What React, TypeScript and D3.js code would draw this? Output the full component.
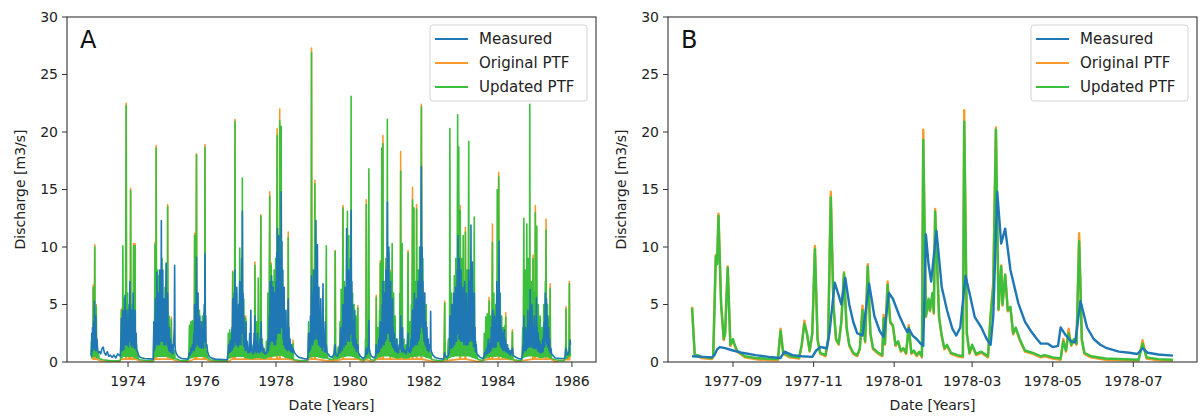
import React from 'react';
import * as d3 from 'd3';

// ---------- DATA ----------
const yTicks = [0, 5, 10, 15, 20, 25, 30];
const xTicksA = [1974, 1976, 1978, 1980, 1982, 1984, 1986];
const xTicksB = ['1977-09', '1977-11', '1978-01', '1978-03', '1978-05', '1978-07'];
const seriesNames = ['Measured', 'Original PTF', 'Updated PTF'];

// Panel A: [decimal year, discharge m3/s]
const measuredA: [number, number][] = [
  [1973.00,0.8],[1973.01,0.5],[1973.02,2.5],[1973.03,0.9],[1973.04,3.0],[1973.05,1.0],[1973.07,3.5],[1973.08,1.2],[1973.09,5.3],[1973.10,1.2],[1973.11,3.0],[1973.12,1.0],[1973.13,4.0],[1973.14,1.0],[1973.16,2.0],[1973.18,1.0],[1973.20,0.8],[1973.23,0.9],[1973.26,0.7],[1973.30,1.2],[1973.33,1.3],[1973.36,0.8],[1973.40,0.6],[1973.44,0.9],[1973.48,0.5],[1973.52,0.6],[1973.57,0.4],[1973.62,0.6],[1973.67,0.35],[1973.72,0.7],[1973.76,0.6],[1973.79,0.5],
  [1973.81,2.0],[1973.82,3.8],[1973.83,1.0],[1973.84,2.8],[1973.85,1.0],[1973.86,4.5],[1973.87,1.2],[1973.88,3.0],[1973.89,1.1],[1973.91,4.5],[1973.92,5.8],[1973.93,1.5],[1973.94,3.5],[1973.95,1.5],[1973.97,4.5],[1973.98,1.5],[1974.00,3.5],[1974.01,1.3],[1974.03,5.0],[1974.04,1.8],[1974.05,7.0],[1974.06,1.8],[1974.07,4.5],[1974.08,1.5],[1974.10,4.5],[1974.11,1.3],[1974.12,3.5],[1974.13,1.3],[1974.14,6.0],[1974.15,1.5],[1974.17,3.5],[1974.18,1.2],[1974.19,4.5],[1974.20,1.2],[1974.22,2.5],[1974.23,1.0],[1974.25,1.0],[1974.28,0.6],[1974.33,0.4],[1974.45,0.3],[1974.68,0.25],
  [1974.70,3.5],[1974.71,1.0],[1974.72,3.0],[1974.73,1.2],[1974.74,5.5],[1974.75,1.5],[1974.76,4.0],[1974.77,1.5],[1974.78,7.8],[1974.79,1.8],[1974.80,4.5],[1974.81,1.5],[1974.82,6.0],[1974.83,1.8],[1974.84,4.0],[1974.85,1.5],[1974.86,8.0],[1974.87,2.0],[1974.88,5.0],[1974.89,1.8],[1974.90,12.3],[1974.91,2.5],[1974.92,6.0],[1974.93,1.8],[1974.94,8.0],[1974.95,1.8],[1974.96,5.0],[1974.97,1.5],[1974.98,5.5],[1974.99,1.5],[1975.00,4.0],[1975.01,1.5],[1975.03,8.6],[1975.04,1.8],[1975.05,5.0],[1975.06,1.5],[1975.07,6.0],[1975.08,1.3],[1975.09,3.0],[1975.10,1.0],[1975.12,3.0],[1975.13,0.9],[1975.15,2.0],[1975.17,0.8],[1975.19,1.5],[1975.21,0.7],[1975.23,1.5],[1975.25,3.0],[1975.26,8.4],[1975.27,1.5],[1975.28,1.0],[1975.31,0.7],[1975.36,0.45],[1975.45,0.3],[1975.62,0.25],
  [1975.66,0.8],[1975.68,0.6],[1975.70,1.2],[1975.72,0.8],[1975.74,1.5],[1975.76,1.0],[1975.78,2.5],[1975.79,1.0],[1975.80,5.0],[1975.81,1.3],[1975.82,3.5],[1975.83,1.3],[1975.85,9.1],[1975.86,1.8],[1975.87,5.0],[1975.88,1.5],[1975.89,6.0],[1975.90,1.5],[1975.91,3.5],[1975.92,1.3],[1975.94,4.0],[1975.95,1.3],[1975.97,3.0],[1975.98,1.2],[1976.00,3.5],[1976.01,1.3],[1976.03,2.8],[1976.04,1.2],[1976.06,5.0],[1976.07,1.8],[1976.08,9.4],[1976.09,2.0],[1976.10,4.0],[1976.11,1.3],[1976.13,1.5],[1976.15,0.9],[1976.18,0.6],[1976.22,0.4],[1976.35,0.25],[1976.68,0.2],
  [1976.71,1.0],[1976.72,1.5],[1976.74,0.8],[1976.76,1.8],[1976.77,0.9],[1976.79,2.0],[1976.80,1.0],[1976.81,3.0],[1976.82,1.1],[1976.83,5.5],[1976.84,1.3],[1976.85,3.0],[1976.86,1.3],[1976.87,6.0],[1976.88,1.8],[1976.89,8.0],[1976.90,1.8],[1976.91,4.5],[1976.92,1.5],[1976.94,6.5],[1976.95,1.5],[1976.96,3.5],[1976.97,1.3],[1976.99,5.0],[1977.00,1.5],[1977.02,7.0],[1977.03,1.8],[1977.04,4.0],[1977.05,1.5],[1977.07,9.0],[1977.08,2.5],[1977.09,13.1],[1977.10,2.5],[1977.11,6.0],[1977.12,1.5],[1977.13,4.0],[1977.14,1.3],[1977.16,2.5],[1977.17,1.0],[1977.19,3.5],[1977.20,1.0],[1977.22,1.8],[1977.24,0.8],[1977.26,1.2],[1977.27,0.8],[1977.29,2.5],[1977.30,0.9],[1977.32,4.5],[1977.33,1.0],[1977.34,1.5],[1977.36,0.8],[1977.38,1.0],[1977.39,0.7],[1977.41,2.5],[1977.42,0.9],[1977.43,4.0],[1977.44,1.0],[1977.46,1.8],[1977.47,0.8],[1977.50,2.5],[1977.51,0.9],[1977.53,1.5],[1977.54,0.8],[1977.57,2.0],[1977.58,0.9],[1977.60,3.5],[1977.61,1.0],[1977.63,1.5],[1977.65,0.8],[1977.67,1.2],[1977.70,0.7],[1977.72,0.7],[1977.75,0.9],[1977.76,0.8],[1977.79,2.0],[1977.80,1.0],[1977.82,4.0],[1977.83,1.5],[1977.84,7.0],[1977.85,2.0],[1977.86,5.0],[1977.87,1.8],[1977.88,7.5],[1977.89,2.0],[1977.90,4.5],[1977.91,1.8],[1977.92,6.5],[1977.93,1.8],[1977.94,3.5],[1977.95,1.5],[1977.96,6.0],[1977.97,1.8],[1977.98,4.0],[1977.99,1.5],[1978.00,7.0],[1978.01,2.0],[1978.02,9.5],[1978.03,2.5],[1978.04,11.6],[1978.05,3.0],[1978.06,7.0],[1978.07,2.5],[1978.08,11.0],[1978.09,3.0],[1978.10,6.0],[1978.11,2.5],[1978.12,9.0],[1978.13,3.0],[1978.14,14.8],[1978.15,3.5],[1978.16,10.5],[1978.17,3.0],[1978.18,8.0],[1978.19,2.0],[1978.20,5.0],[1978.21,1.5],[1978.22,6.5],[1978.23,1.5],[1978.24,3.5],[1978.25,1.2],[1978.27,4.5],[1978.28,1.1],[1978.30,2.5],[1978.31,1.0],[1978.33,5.5],[1978.34,1.2],[1978.35,3.0],[1978.36,1.0],[1978.38,2.0],[1978.40,0.9],[1978.42,1.5],[1978.44,0.8],[1978.46,1.2],[1978.50,0.8],[1978.55,0.6],[1978.62,0.4],[1978.75,0.3],[1978.86,0.25],
  [1978.88,2.5],[1978.89,0.9],[1978.91,2.5],[1978.92,1.0],[1978.93,4.0],[1978.94,1.2],[1978.96,7.5],[1978.97,1.8],[1978.98,4.5],[1978.99,1.5],[1979.00,6.0],[1979.01,1.8],[1979.02,8.0],[1979.03,2.0],[1979.05,6.5],[1979.06,2.0],[1979.08,12.3],[1979.09,2.5],[1979.10,8.0],[1979.11,2.0],[1979.12,10.2],[1979.13,2.0],[1979.14,5.0],[1979.15,1.5],[1979.16,6.5],[1979.17,1.5],[1979.19,3.5],[1979.20,1.3],[1979.21,5.5],[1979.22,1.3],[1979.24,2.5],[1979.25,1.0],[1979.27,6.8],[1979.28,1.3],[1979.30,2.0],[1979.31,0.9],[1979.33,3.5],[1979.34,0.9],[1979.36,1.5],[1979.38,0.8],[1979.41,0.7],[1979.45,0.5],[1979.52,0.4],[1979.58,0.8],[1979.60,1.5],[1979.62,0.6],[1979.65,0.5],[1979.68,0.6],[1979.71,1.0],[1979.72,1.5],[1979.73,0.8],[1979.75,3.0],[1979.76,1.0],[1979.78,2.0],[1979.79,1.0],[1979.81,5.0],[1979.82,1.5],[1979.83,3.5],[1979.84,1.3],[1979.86,6.5],[1979.87,1.8],[1979.88,4.0],[1979.89,1.5],[1979.91,11.6],[1979.92,2.5],[1979.93,6.0],[1979.94,1.8],[1979.96,8.0],[1979.97,2.0],[1979.98,5.0],[1979.99,1.8],[1980.01,9.0],[1980.02,2.5],[1980.03,13.2],[1980.04,2.5],[1980.05,7.0],[1980.06,1.8],[1980.07,5.0],[1980.08,1.5],[1980.10,3.5],[1980.11,1.3],[1980.13,4.5],[1980.14,1.2],[1980.16,2.0],[1980.17,0.9],[1980.19,1.2],[1980.21,1.5],[1980.23,0.8],[1980.28,0.5],[1980.36,0.3],
  [1980.42,0.5],[1980.44,1.2],[1980.46,0.7],[1980.48,0.9],[1980.50,1.5],[1980.51,3.6],[1980.52,1.2],[1980.54,0.8],[1980.58,0.5],[1980.66,0.35],
  [1980.70,0.6],[1980.71,1.5],[1980.72,0.7],[1980.74,1.0],[1980.76,0.8],[1980.78,2.0],[1980.79,0.9],[1980.81,2.5],[1980.82,3.5],[1980.83,1.2],[1980.85,3.0],[1980.86,1.3],[1980.87,5.0],[1980.88,1.5],[1980.89,7.0],[1980.90,1.8],[1980.91,4.5],[1980.92,1.5],[1980.94,6.0],[1980.95,1.8],[1980.97,8.0],[1980.98,2.0],[1980.99,6.0],[1981.00,2.5],[1981.01,13.9],[1981.02,3.0],[1981.03,8.0],[1981.04,2.5],[1981.05,10.0],[1981.06,2.5],[1981.07,6.0],[1981.08,1.8],[1981.10,7.0],[1981.11,1.8],[1981.12,4.0],[1981.13,1.5],[1981.15,5.5],[1981.16,1.3],[1981.17,3.0],[1981.18,1.2],[1981.20,2.5],[1981.21,1.0],[1981.23,1.5],[1981.25,0.9],[1981.26,2.0],[1981.28,0.8],[1981.29,1.2],[1981.31,0.8],[1981.33,1.5],[1981.35,1.2],[1981.37,4.0],[1981.38,1.1],[1981.39,2.0],[1981.40,0.9],[1981.42,3.0],[1981.43,0.9],[1981.45,1.2],[1981.47,0.8],[1981.50,1.0],[1981.52,0.7],[1981.55,1.5],[1981.57,2.5],[1981.58,0.9],[1981.61,1.2],[1981.63,0.8],[1981.65,2.0],[1981.66,1.0],[1981.69,4.5],[1981.70,1.3],[1981.71,3.0],[1981.72,1.3],[1981.74,6.0],[1981.75,1.5],[1981.76,4.0],[1981.77,1.5],[1981.79,5.5],[1981.80,1.8],[1981.81,3.5],[1981.82,1.5],[1981.84,7.0],[1981.85,1.8],[1981.86,5.0],[1981.87,2.0],[1981.88,8.0],[1981.89,2.5],[1981.90,10.0],[1981.91,3.0],[1981.93,17.0],[1981.94,3.5],[1981.95,10.0],[1981.96,3.0],[1981.97,7.0],[1981.98,2.5],[1981.99,5.0],[1982.00,1.8],[1982.02,6.0],[1982.03,1.5],[1982.05,3.5],[1982.06,1.3],[1982.08,3.0],[1982.09,1.0],[1982.11,2.0],[1982.13,0.9],[1982.15,1.5],[1982.17,1.2],[1982.18,4.4],[1982.19,1.1],[1982.20,0.9],[1982.24,0.6],[1982.30,0.4],[1982.40,0.3],[1982.53,0.25],
  [1982.56,0.8],[1982.58,0.5],[1982.62,0.4],[1982.66,0.6],[1982.68,0.8],[1982.69,1.2],[1982.70,4.0],[1982.71,1.2],[1982.72,3.0],[1982.73,1.2],[1982.75,5.0],[1982.76,1.3],[1982.77,3.5],[1982.78,1.3],[1982.80,6.0],[1982.81,1.5],[1982.82,4.0],[1982.83,1.5],[1982.85,6.5],[1982.86,1.8],[1982.87,4.5],[1982.88,1.8],[1982.90,8.0],[1982.91,2.5],[1982.92,11.0],[1982.93,2.5],[1982.94,7.0],[1982.95,2.0],[1982.96,9.0],[1982.97,2.0],[1982.98,5.5],[1982.99,1.8],[1983.00,8.0],[1983.01,2.0],[1983.02,5.0],[1983.03,1.8],[1983.05,6.5],[1983.06,1.8],[1983.07,4.0],[1983.08,1.5],[1983.10,7.0],[1983.11,1.8],[1983.12,5.0],[1983.13,1.5],[1983.15,6.0],[1983.16,1.5],[1983.18,3.5],[1983.19,1.5],[1983.21,8.0],[1983.22,1.8],[1983.23,5.0],[1983.24,1.8],[1983.25,7.0],[1983.26,2.0],[1983.27,11.9],[1983.28,2.5],[1983.29,6.0],[1983.30,1.8],[1983.31,8.7],[1983.32,1.8],[1983.33,4.0],[1983.34,1.3],[1983.36,6.0],[1983.37,1.3],[1983.38,3.0],[1983.39,0.9],[1983.41,1.5],[1983.43,0.7],[1983.46,0.6],[1983.52,0.4],[1983.61,0.3],
  [1983.64,0.8],[1983.66,0.6],[1983.68,1.0],[1983.70,1.2],[1983.71,0.7],[1983.73,1.5],[1983.74,2.0],[1983.75,0.8],[1983.77,1.5],[1983.78,0.9],[1983.80,2.0],[1983.81,1.0],[1983.82,3.0],[1983.83,1.2],[1983.85,4.0],[1983.86,4.5],[1983.87,1.3],[1983.88,3.0],[1983.89,1.3],[1983.91,4.0],[1983.92,1.3],[1983.94,3.0],[1983.95,1.3],[1983.97,7.0],[1983.98,1.8],[1984.00,5.0],[1984.01,1.8],[1984.03,10.5],[1984.04,2.0],[1984.05,6.0],[1984.06,1.5],[1984.07,4.0],[1984.08,1.3],[1984.10,3.0],[1984.11,1.2],[1984.13,2.5],[1984.14,1.0],[1984.17,2.8],[1984.18,1.0],[1984.20,2.0],[1984.22,0.9],[1984.24,1.5],[1984.26,0.8],[1984.28,1.2],[1984.30,0.7],[1984.32,1.0],[1984.34,0.6],[1984.36,0.8],[1984.39,1.2],[1984.41,0.6],[1984.46,0.45],[1984.55,0.3],[1984.64,0.25],
  [1984.66,0.6],[1984.68,1.5],[1984.69,0.8],[1984.70,4.0],[1984.71,1.0],[1984.72,2.0],[1984.73,1.0],[1984.75,3.0],[1984.76,1.0],[1984.78,2.5],[1984.79,1.2],[1984.81,4.5],[1984.82,1.3],[1984.84,3.0],[1984.85,1.3],[1984.87,6.3],[1984.88,1.5],[1984.89,4.0],[1984.90,1.3],[1984.92,5.0],[1984.93,1.3],[1984.95,3.0],[1984.96,1.2],[1984.98,4.0],[1984.99,1.2],[1985.01,2.5],[1985.02,1.2],[1985.04,5.6],[1985.05,1.3],[1985.06,3.0],[1985.07,1.0],[1985.09,2.5],[1985.10,0.9],[1985.13,1.8],[1985.14,0.8],[1985.17,1.5],[1985.18,0.8],[1985.21,2.0],[1985.22,0.9],[1985.24,2.5],[1985.25,3.5],[1985.26,1.3],[1985.28,6.0],[1985.29,1.8],[1985.31,5.5],[1985.32,1.5],[1985.34,4.0],[1985.35,1.3],[1985.37,3.0],[1985.38,1.0],[1985.40,2.0],[1985.41,0.8],[1985.43,1.2],[1985.45,0.7],[1985.48,0.6],[1985.55,0.35],[1985.70,0.3],[1985.80,0.3],
  [1985.82,0.6],[1985.84,1.2],[1985.86,0.8],[1985.88,0.6],[1985.91,0.7],[1985.93,1.0],[1985.94,1.5],[1985.95,1.9],[1985.96,1.5]
];

const originalA: [number, number][] = [
  [1973.00,0.4],[1973.05,0.25],[1973.06,6.7],[1973.07,0.25],[1973.09,0.25],[1973.10,10.2],[1973.11,0.25],[1973.13,0.25],[1973.14,5.0],[1973.15,0.25],[1973.25,0.1],[1973.78,0.05],[1973.81,0.25],[1973.82,4.6],[1973.83,0.25],[1973.94,0.25],[1973.95,22.5],[1973.96,0.25],[1974.02,0.25],[1974.03,4.7],[1974.04,0.25],[1974.06,0.25],[1974.07,15.1],[1974.08,0.25],[1974.14,0.25],[1974.15,10.3],[1974.16,0.25],[1974.18,0.25],[1974.19,10.3],[1974.20,0.25],[1974.30,0.1],[1974.68,0.05],
  [1974.72,0.25],[1974.73,10.4],[1974.74,0.25],[1974.755,0.25],[1974.76,18.8],[1974.77,0.25],[1975.065,0.25],[1975.07,13.7],[1975.08,0.25],[1975.16,0.25],[1975.17,3.9],[1975.18,0.25],[1975.30,0.1],[1975.64,0.05],[1975.79,0.25],[1975.80,11.2],[1975.81,0.25],[1975.84,0.25],[1975.85,18.1],[1975.86,0.25],[1976.04,0.25],[1976.05,4.3],[1976.06,0.25],[1976.075,0.25],[1976.08,18.9],[1976.09,0.25],[1976.20,0.1],[1976.70,0.05],
  [1976.82,0.25],[1976.83,7.9],[1976.84,0.25],[1976.88,0.25],[1976.89,21.1],[1976.90,0.25],[1977.17,0.25],[1977.18,4.0],[1977.19,0.25],[1977.42,0.25],[1977.43,8.7],[1977.44,0.25],[1977.58,0.25],[1977.59,12.8],[1977.60,0.25],[1977.82,0.25],[1977.83,14.8],[1977.84,0.25],[1977.86,0.25],[1977.87,8.6],[1977.88,0.25],[1978.02,0.25],[1978.03,20.3],[1978.04,0.25],[1978.095,0.25],[1978.10,22.0],[1978.11,0.25],[1978.325,0.25],[1978.33,11.3],[1978.34,0.25],[1978.45,0.2],[1978.46,1.9],[1978.47,0.15],[1978.60,0.05],
  [1978.95,0.25],[1978.96,27.3],[1978.97,0.25],[1979.04,0.25],[1979.05,15.8],[1979.06,0.25],[1979.40,0.1],[1979.59,0.1],[1979.60,9.7],[1979.61,0.1],[1979.80,0.25],[1979.81,13.6],[1979.82,0.25],[1980.20,0.25],[1980.21,4.9],[1980.22,0.25],[1980.35,0.05],[1980.43,0.2],[1980.44,14.1],[1980.45,0.2],[1980.60,0.05],
  [1980.70,0.2],[1980.71,5.8],[1980.72,0.25],[1980.81,0.25],[1980.82,8.8],[1980.83,0.25],[1980.885,0.25],[1980.89,19.7],[1980.90,0.25],[1981.08,0.25],[1981.09,8.0],[1981.10,0.25],[1981.36,0.25],[1981.37,18.3],[1981.38,0.25],[1981.56,0.25],[1981.57,9.7],[1981.58,0.25],[1981.68,0.25],[1981.69,15.2],[1981.70,0.25],[1981.795,0.25],[1981.80,13.7],[1981.81,0.25],[1981.92,0.25],[1981.93,22.4],[1981.94,0.25],[1982.25,0.05],
  [1982.55,0.1],[1982.56,5.3],[1982.57,0.1],[1982.97,0.25],[1982.98,13.6],[1982.99,0.25],[1983.11,0.25],[1983.12,11.7],[1983.13,0.25],[1983.45,0.05],[1983.75,0.25],[1983.76,5.6],[1983.77,0.25],[1983.84,0.25],[1983.85,12.0],[1983.86,0.25],[1984.01,0.25],[1984.02,16.5],[1984.03,0.25],[1984.20,0.25],[1984.21,4.3],[1984.22,0.25],[1984.38,0.2],[1984.39,2.8],[1984.40,0.2],[1984.50,0.05],
  [1984.94,0.25],[1984.95,9.3],[1984.96,0.25],[1985.00,0.25],[1985.01,13.6],[1985.02,0.25],[1985.29,0.25],[1985.30,12.4],[1985.31,0.25],[1985.40,0.25],[1985.41,6.8],[1985.42,0.25],[1985.55,0.05],[1985.835,0.2],[1985.84,4.8],[1985.85,0.2],[1985.92,0.2],[1985.93,7.0],[1985.94,0.2],[1985.96,0.2]
];

const updatedA: [number, number][] = [
  [1973.00,0.6],[1973.01,1.8],[1973.02,0.4],[1973.04,2.5],[1973.05,0.5],[1973.06,6.5],[1973.07,0.5],[1973.08,1.5],[1973.09,0.5],[1973.10,10.0],[1973.11,0.5],[1973.12,1.5],[1973.13,0.5],[1973.14,4.8],[1973.15,0.4],[1973.17,1.2],[1973.18,0.35],[1973.20,0.8],[1973.22,0.3],[1973.25,0.25],[1973.32,0.2],[1973.50,0.12],[1973.78,0.1],
  [1973.80,0.3],[1973.81,1.5],[1973.82,4.5],[1973.83,0.4],[1973.84,1.5],[1973.85,0.45],[1973.86,10.1],[1973.87,0.5],[1973.88,1.5],[1973.89,0.5],[1973.90,5.5],[1973.91,0.5],[1973.92,1.5],[1973.93,0.5],[1973.95,22.3],[1973.96,0.5],[1973.97,1.6],[1973.98,0.5],[1973.99,6.0],[1974.00,0.5],[1974.01,1.5],[1974.02,0.5],[1974.03,4.5],[1974.04,0.5],[1974.05,1.6],[1974.06,0.5],[1974.07,14.9],[1974.08,0.5],[1974.09,1.8],[1974.10,0.5],[1974.11,5.0],[1974.12,0.5],[1974.13,1.5],[1974.14,0.45],[1974.15,10.1],[1974.16,0.45],[1974.17,1.6],[1974.18,0.4],[1974.19,10.1],[1974.20,0.4],[1974.21,1.4],[1974.22,0.35],[1974.23,1.5],[1974.24,0.3],[1974.26,0.8],[1974.28,0.25],[1974.32,0.2],[1974.45,0.15],[1974.67,0.1],
  [1974.69,0.3],[1974.70,3.5],[1974.71,0.4],[1974.73,10.2],[1974.74,0.5],[1974.75,1.6],[1974.755,0.5],[1974.76,18.6],[1974.77,0.5],[1974.78,1.6],[1974.79,0.5],[1974.80,8.0],[1974.81,0.5],[1974.82,1.5],[1974.83,0.5],[1974.84,7.5],[1974.85,0.5],[1974.86,1.6],[1974.87,0.5],[1974.88,6.0],[1974.89,0.5],[1974.90,1.5],[1974.91,0.5],[1974.92,9.0],[1974.93,0.5],[1974.94,1.6],[1974.95,0.5],[1974.96,5.0],[1974.97,0.5],[1974.98,1.5],[1974.99,0.5],[1975.00,6.5],[1975.01,0.5],[1975.02,1.6],[1975.03,0.5],[1975.04,8.5],[1975.05,0.5],[1975.06,1.6],[1975.065,0.5],[1975.07,13.5],[1975.08,0.5],[1975.09,1.6],[1975.10,0.45],[1975.11,4.0],[1975.12,0.4],[1975.13,1.3],[1975.14,0.4],[1975.15,1.8],[1975.16,0.4],[1975.17,3.7],[1975.18,0.35],[1975.20,1.0],[1975.21,0.3],[1975.23,0.8],[1975.24,0.3],[1975.26,1.0],[1975.27,0.3],[1975.30,0.25],[1975.40,0.15],[1975.60,0.1],
  [1975.64,0.2],[1975.66,3.2],[1975.67,0.35],[1975.68,1.4],[1975.69,0.35],[1975.70,3.5],[1975.71,0.4],[1975.72,1.5],[1975.73,0.4],[1975.74,3.6],[1975.75,0.4],[1975.76,1.5],[1975.77,0.45],[1975.78,3.5],[1975.79,0.5],[1975.80,11.0],[1975.81,0.5],[1975.82,1.6],[1975.83,0.5],[1975.85,18.0],[1975.86,0.5],[1975.87,1.8],[1975.88,0.5],[1975.89,6.0],[1975.90,0.5],[1975.91,1.5],[1975.92,0.5],[1975.93,4.5],[1975.94,0.5],[1975.95,1.5],[1975.96,0.5],[1975.97,3.5],[1975.98,0.5],[1975.99,1.5],[1976.00,0.5],[1976.01,4.0],[1976.02,0.5],[1976.03,1.5],[1976.04,0.5],[1976.05,4.2],[1976.06,0.5],[1976.07,1.6],[1976.075,0.5],[1976.08,18.7],[1976.09,0.5],[1976.10,1.5],[1976.11,0.4],[1976.12,1.0],[1976.13,0.35],[1976.15,0.6],[1976.17,0.3],[1976.22,0.2],[1976.40,0.12],[1976.68,0.1],
  [1976.70,0.3],[1976.71,2.5],[1976.72,0.35],[1976.73,1.5],[1976.74,0.35],[1976.75,2.8],[1976.76,0.4],[1976.77,1.5],[1976.78,0.4],[1976.79,2.5],[1976.80,0.45],[1976.81,1.8],[1976.82,0.5],[1976.83,7.8],[1976.84,0.5],[1976.85,1.6],[1976.86,0.5],[1976.87,4.0],[1976.88,0.5],[1976.89,20.9],[1976.90,0.5],[1976.91,1.6],[1976.92,0.5],[1976.93,6.0],[1976.94,0.5],[1976.95,1.6],[1976.96,0.5],[1976.97,4.5],[1976.98,0.5],[1976.99,1.5],[1977.00,0.5],[1977.02,9.9],[1977.03,0.5],[1977.04,1.6],[1977.05,0.5],[1977.06,5.0],[1977.07,0.5],[1977.08,1.6],[1977.085,0.5],[1977.09,16.0],[1977.10,0.5],[1977.11,1.6],[1977.12,0.5],[1977.13,5.5],[1977.14,0.45],[1977.15,1.5],[1977.16,0.4],[1977.18,3.8],[1977.19,0.4],[1977.20,1.2],[1977.21,0.4],[1977.22,1.5],[1977.23,0.35],[1977.25,1.0],[1977.26,0.35],[1977.27,1.2],[1977.28,0.35],[1977.30,0.9],[1977.31,0.3],[1977.33,1.0],[1977.34,0.3],[1977.36,0.8],[1977.37,0.3],[1977.39,1.5],[1977.40,0.35],[1977.41,1.0],[1977.42,0.4],[1977.43,8.4],[1977.44,0.4],[1977.45,1.5],[1977.46,0.4],[1977.48,3.5],[1977.49,0.4],[1977.50,1.3],[1977.51,0.4],[1977.52,7.3],[1977.53,0.4],[1977.54,1.5],[1977.55,0.4],[1977.56,2.0],[1977.57,0.4],[1977.59,12.7],[1977.60,0.4],[1977.61,1.5],[1977.62,0.4],[1977.63,2.0],[1977.64,0.35],[1977.66,1.0],[1977.67,0.3],[1977.69,0.8],[1977.70,0.3],[1977.72,0.7],[1977.73,0.35],[1977.74,1.8],[1977.75,0.4],[1977.76,1.3],[1977.77,0.4],[1977.78,6.0],[1977.79,0.45],[1977.80,1.5],[1977.81,0.5],[1977.83,14.4],[1977.84,0.5],[1977.85,1.6],[1977.86,0.5],[1977.87,8.4],[1977.88,0.5],[1977.89,1.6],[1977.90,0.5],[1977.91,7.0],[1977.92,0.55],[1977.93,1.6],[1977.94,0.5],[1977.95,8.0],[1977.96,0.55],[1977.97,1.6],[1977.98,0.55],[1977.99,9.0],[1978.00,0.55],[1978.01,1.8],[1978.02,0.55],[1978.03,19.7],[1978.04,0.6],[1978.05,2.0],[1978.06,0.6],[1978.07,10.0],[1978.08,0.6],[1978.09,2.0],[1978.095,0.6],[1978.10,21.0],[1978.11,0.6],[1978.12,2.0],[1978.13,0.6],[1978.14,20.5],[1978.15,0.6],[1978.16,1.6],[1978.17,0.55],[1978.18,8.0],[1978.19,0.55],[1978.20,1.5],[1978.21,0.5],[1978.22,5.5],[1978.23,0.45],[1978.24,1.3],[1978.25,0.4],[1978.26,1.8],[1978.27,0.4],[1978.28,1.0],[1978.29,0.4],[1978.30,1.5],[1978.31,0.4],[1978.32,1.0],[1978.325,0.4],[1978.33,10.8],[1978.34,0.4],[1978.35,1.3],[1978.36,0.35],[1978.37,1.8],[1978.38,0.3],[1978.40,0.8],[1978.41,0.3],[1978.43,0.7],[1978.44,0.3],[1978.46,1.6],[1978.47,0.25],[1978.50,0.2],[1978.60,0.15],[1978.85,0.1],
  [1978.87,0.3],[1978.88,3.5],[1978.89,0.4],[1978.90,1.3],[1978.91,0.4],[1978.92,1.5],[1978.93,0.45],[1978.94,1.8],[1978.95,0.5],[1978.96,26.9],[1978.97,0.5],[1978.98,1.6],[1978.99,0.5],[1979.00,8.0],[1979.01,0.5],[1979.02,1.6],[1979.03,0.5],[1979.05,15.5],[1979.06,0.5],[1979.07,1.8],[1979.08,0.5],[1979.09,7.5],[1979.10,0.5],[1979.11,1.5],[1979.12,0.5],[1979.13,5.0],[1979.14,0.45],[1979.15,1.3],[1979.16,0.45],[1979.18,4.0],[1979.19,0.4],[1979.20,1.3],[1979.21,0.4],[1979.22,1.8],[1979.23,0.4],[1979.25,1.0],[1979.26,0.35],[1979.27,1.5],[1979.28,0.35],[1979.30,0.8],[1979.31,0.35],[1979.33,1.3],[1979.34,0.35],[1979.36,10.1],[1979.37,0.35],[1979.39,0.7],[1979.40,0.3],[1979.45,0.25],[1979.55,0.2],[1979.58,1.5],[1979.59,0.3],[1979.60,9.6],[1979.61,0.3],[1979.63,0.6],[1979.65,0.25],[1979.68,1.3],[1979.69,0.3],[1979.71,1.3],[1979.72,0.35],[1979.73,3.5],[1979.74,0.4],[1979.75,1.3],[1979.755,0.4],[1979.76,6.3],[1979.77,0.45],[1979.78,1.5],[1979.79,0.5],[1979.81,13.4],[1979.82,0.5],[1979.83,1.6],[1979.84,0.5],[1979.85,7.0],[1979.86,0.5],[1979.87,1.6],[1979.88,0.5],[1979.89,6.0],[1979.90,0.55],[1979.91,1.6],[1979.92,0.55],[1979.93,13.1],[1979.94,0.55],[1979.95,1.8],[1979.96,0.55],[1979.97,11.0],[1979.98,0.55],[1979.99,1.8],[1980.00,0.55],[1980.01,6.0],[1980.02,0.55],[1980.03,23.1],[1980.04,0.55],[1980.05,1.6],[1980.06,0.5],[1980.07,6.0],[1980.08,0.5],[1980.09,1.5],[1980.10,0.5],[1980.11,5.0],[1980.12,0.45],[1980.13,1.3],[1980.14,0.4],[1980.16,4.0],[1980.17,0.4],[1980.18,1.0],[1980.19,0.35],[1980.21,4.7],[1980.22,0.35],[1980.24,0.7],[1980.25,0.3],[1980.28,0.25],[1980.38,0.15],
  [1980.41,0.3],[1980.42,2.0],[1980.43,0.35],[1980.44,13.7],[1980.45,0.4],[1980.46,1.5],[1980.47,0.35],[1980.48,3.0],[1980.49,0.35],[1980.51,16.8],[1980.52,0.35],[1980.53,1.0],[1980.54,0.3],[1980.57,0.2],[1980.66,0.15],
  [1980.69,0.3],[1980.70,1.5],[1980.705,0.3],[1980.71,5.6],[1980.72,0.35],[1980.73,1.3],[1980.74,0.35],[1980.75,3.0],[1980.76,0.4],[1980.77,1.3],[1980.78,0.45],[1980.80,4.5],[1980.81,0.5],[1980.82,8.6],[1980.83,0.5],[1980.84,1.6],[1980.85,0.5],[1980.86,18.6],[1980.87,0.55],[1980.88,1.8],[1980.885,0.55],[1980.89,19.0],[1980.90,0.55],[1980.91,1.6],[1980.92,0.55],[1980.93,7.0],[1980.94,0.55],[1980.95,1.6],[1980.96,0.55],[1980.97,9.0],[1980.98,0.55],[1980.99,1.8],[1981.00,0.55],[1981.01,21.1],[1981.02,0.55],[1981.03,1.8],[1981.04,0.55],[1981.05,9.5],[1981.06,0.55],[1981.07,1.6],[1981.08,0.5],[1981.09,7.8],[1981.10,0.5],[1981.11,1.6],[1981.12,0.5],[1981.14,10.3],[1981.15,0.45],[1981.16,1.4],[1981.17,0.45],[1981.18,6.0],[1981.19,0.45],[1981.20,1.3],[1981.21,0.4],[1981.22,4.0],[1981.23,0.4],[1981.25,1.0],[1981.26,0.35],[1981.27,2.0],[1981.28,0.35],[1981.30,1.0],[1981.31,0.35],[1981.33,1.3],[1981.34,0.4],[1981.35,6.0],[1981.36,0.45],[1981.37,16.6],[1981.38,0.45],[1981.39,1.5],[1981.40,0.45],[1981.41,10.3],[1981.42,0.4],[1981.43,1.3],[1981.44,0.35],[1981.46,2.0],[1981.47,0.35],[1981.49,1.0],[1981.50,0.35],[1981.51,1.5],[1981.52,0.35],[1981.54,1.0],[1981.55,0.4],[1981.57,9.5],[1981.58,0.4],[1981.59,1.3],[1981.60,0.4],[1981.62,3.5],[1981.63,0.45],[1981.64,1.3],[1981.65,0.45],[1981.66,5.0],[1981.67,0.5],[1981.69,14.1],[1981.70,0.5],[1981.71,1.6],[1981.72,0.5],[1981.73,13.4],[1981.74,0.5],[1981.75,1.6],[1981.76,0.5],[1981.77,7.0],[1981.78,0.5],[1981.79,1.6],[1981.795,0.5],[1981.80,13.3],[1981.81,0.55],[1981.82,1.8],[1981.83,0.55],[1981.84,8.0],[1981.85,0.55],[1981.86,1.6],[1981.87,0.55],[1981.88,10.0],[1981.89,0.55],[1981.90,1.8],[1981.91,0.55],[1981.93,22.2],[1981.94,0.55],[1981.95,1.8],[1981.96,0.55],[1981.97,9.0],[1981.98,0.55],[1981.99,1.6],[1982.00,0.5],[1982.01,6.0],[1982.02,0.5],[1982.03,1.5],[1982.04,0.45],[1982.06,5.0],[1982.07,0.4],[1982.08,1.3],[1982.09,0.4],[1982.11,2.0],[1982.12,0.4],[1982.13,1.0],[1982.14,0.35],[1982.16,1.5],[1982.17,0.3],[1982.19,0.7],[1982.20,0.25],[1982.24,0.2],[1982.35,0.15],[1982.52,0.1],
  [1982.54,0.3],[1982.56,5.1],[1982.57,0.3],[1982.60,0.25],[1982.63,0.2],[1982.66,2.0],[1982.67,0.35],[1982.68,1.0],[1982.69,0.4],[1982.70,20.3],[1982.71,0.45],[1982.72,1.5],[1982.73,0.45],[1982.74,6.0],[1982.75,0.5],[1982.76,1.5],[1982.77,0.5],[1982.78,5.0],[1982.79,0.5],[1982.80,1.5],[1982.81,0.5],[1982.82,7.5],[1982.83,0.55],[1982.84,1.6],[1982.85,0.55],[1982.86,9.0],[1982.87,0.55],[1982.88,1.6],[1982.89,0.55],[1982.91,21.5],[1982.92,0.55],[1982.93,1.8],[1982.935,0.55],[1982.94,18.7],[1982.95,0.55],[1982.96,1.8],[1982.97,0.55],[1982.98,13.2],[1982.99,0.55],[1983.00,1.6],[1983.01,0.55],[1983.02,9.0],[1983.03,0.55],[1983.04,1.6],[1983.05,0.55],[1983.06,11.0],[1983.07,0.55],[1983.08,1.6],[1983.09,0.55],[1983.10,7.0],[1983.11,0.55],[1983.12,11.3],[1983.13,0.55],[1983.14,1.6],[1983.15,0.55],[1983.16,8.0],[1983.17,0.55],[1983.18,1.5],[1983.19,0.55],[1983.21,19.2],[1983.22,0.55],[1983.23,1.6],[1983.24,0.5],[1983.25,7.0],[1983.26,0.5],[1983.27,1.5],[1983.28,0.45],[1983.29,6.0],[1983.30,0.45],[1983.31,1.3],[1983.32,0.4],[1983.33,4.0],[1983.34,0.4],[1983.36,12.6],[1983.37,0.35],[1983.38,1.3],[1983.39,0.3],[1983.40,1.8],[1983.41,0.3],[1983.43,0.6],[1983.45,0.25],[1983.50,0.2],[1983.60,0.12],
  [1983.62,0.3],[1983.63,2.5],[1983.64,0.35],[1983.65,1.0],[1983.66,0.35],[1983.67,3.9],[1983.68,0.35],[1983.69,1.3],[1983.70,0.4],[1983.71,4.2],[1983.72,0.4],[1983.73,1.3],[1983.74,0.45],[1983.76,5.3],[1983.77,0.45],[1983.78,1.5],[1983.79,0.5],[1983.80,4.0],[1983.81,0.5],[1983.82,1.5],[1983.83,0.5],[1983.85,10.4],[1983.86,0.5],[1983.87,1.6],[1983.88,0.5],[1983.89,6.0],[1983.90,0.5],[1983.91,1.5],[1983.92,0.5],[1983.94,5.0],[1983.95,0.5],[1983.96,1.5],[1983.97,0.55],[1983.98,15.0],[1983.99,0.55],[1984.00,1.6],[1984.01,0.55],[1984.02,16.1],[1984.03,0.55],[1984.04,1.6],[1984.05,0.5],[1984.06,6.0],[1984.07,0.5],[1984.08,1.5],[1984.09,0.45],[1984.10,4.0],[1984.11,0.45],[1984.12,1.3],[1984.13,0.4],[1984.15,3.0],[1984.16,0.4],[1984.17,1.0],[1984.18,0.4],[1984.19,3.2],[1984.20,0.4],[1984.21,3.9],[1984.22,0.35],[1984.24,1.0],[1984.25,0.35],[1984.26,1.5],[1984.27,0.3],[1984.29,0.7],[1984.30,0.3],[1984.33,1.0],[1984.34,0.25],[1984.36,0.6],[1984.37,0.25],[1984.39,2.6],[1984.40,0.25],[1984.43,0.2],[1984.52,0.15],[1984.63,0.1],
  [1984.65,0.3],[1984.67,3.0],[1984.68,0.4],[1984.70,12.5],[1984.71,0.45],[1984.72,1.5],[1984.73,0.45],[1984.74,8.0],[1984.75,0.5],[1984.76,1.5],[1984.77,0.5],[1984.78,12.0],[1984.79,0.5],[1984.80,1.6],[1984.81,0.55],[1984.82,9.0],[1984.83,0.55],[1984.84,1.6],[1984.85,0.55],[1984.86,22.4],[1984.87,0.55],[1984.88,1.6],[1984.89,0.55],[1984.90,7.0],[1984.91,0.55],[1984.92,1.5],[1984.93,0.55],[1984.95,9.0],[1984.96,0.55],[1984.97,1.5],[1984.98,0.5],[1984.99,6.0],[1985.00,0.55],[1985.01,13.0],[1985.02,0.55],[1985.03,1.5],[1985.04,0.5],[1985.05,11.8],[1985.06,0.5],[1985.07,1.5],[1985.08,0.45],[1985.09,5.0],[1985.10,0.45],[1985.11,1.3],[1985.12,0.4],[1985.14,4.0],[1985.15,0.4],[1985.16,1.0],[1985.17,0.4],[1985.19,3.0],[1985.20,0.4],[1985.21,1.3],[1985.22,0.4],[1985.24,5.0],[1985.25,0.45],[1985.26,1.5],[1985.27,0.45],[1985.28,7.0],[1985.29,0.5],[1985.30,11.5],[1985.31,0.5],[1985.32,1.5],[1985.33,0.45],[1985.34,5.0],[1985.35,0.45],[1985.36,1.3],[1985.37,0.4],[1985.39,4.0],[1985.40,0.4],[1985.41,6.4],[1985.42,0.35],[1985.44,0.7],[1985.45,0.3],[1985.49,0.25],[1985.56,0.2],[1985.78,0.1],
  [1985.81,0.3],[1985.83,1.5],[1985.835,0.3],[1985.84,4.6],[1985.85,0.35],[1985.87,0.8],[1985.88,0.3],[1985.90,0.5],[1985.92,1.5],[1985.93,6.8],[1985.94,0.5],[1985.95,1.2],[1985.96,0.5]
];

// Panel B: [date, discharge m3/s]
const measuredB: [string, number][] = [
  ['1977-08-01',0.5],['1977-08-10',0.45],['1977-08-16',0.4],['1977-08-18',0.6],['1977-08-20',1.1],['1977-08-22',1.3],['1977-08-26',1.2],['1977-09-01',1.0],['1977-09-08',0.8],['1977-09-18',0.6],['1977-09-28',0.45],['1977-10-07',0.35],['1977-10-10',0.9],['1977-10-16',0.6],['1977-10-23',0.5],['1977-10-31',0.45],['1977-11-03',1.0],['1977-11-06',1.3],['1977-11-11',1.2],['1977-11-13',2.5],['1977-11-17',6.9],['1977-11-20',5.8],['1977-11-22',5.0],['1977-11-25',7.3],['1977-11-28',5.0],['1977-12-01',3.5],['1977-12-04',2.5],['1977-12-08',2.3],['1977-12-13',6.8],['1977-12-17',4.0],['1977-12-21',2.7],['1977-12-24',2.2],['1977-12-28',6.0],['1977-12-31',5.5],
  ['1978-01-05',4.0],['1978-01-09',3.0],['1978-01-11',2.6],['1978-01-12',2.9],['1978-01-15',2.3],['1978-01-18',2.0],['1978-01-21',1.6],['1978-01-23',1.4],['1978-01-25',11.1],['1978-01-27',8.5],['1978-01-29',7.0],['1978-02-02',11.4],['1978-02-06',6.5],['1978-02-10',4.5],['1978-02-14',2.9],['1978-02-17',2.3],['1978-02-20',3.0],['1978-02-24',7.5],['1978-02-27',6.0],['1978-03-03',3.9],['1978-03-08',3.0],['1978-03-12',2.0],['1978-03-15',1.5],['1978-03-17',4.0],['1978-03-20',14.8],['1978-03-23',10.3],['1978-03-26',11.6],['1978-03-30',8.0],['1978-04-05',5.1],['1978-04-10',3.5],['1978-04-15',2.6],['1978-04-19',2.0],['1978-04-22',1.6],['1978-04-27',1.6],['1978-05-01',1.3],['1978-05-05',1.4],['1978-05-07',3.0],['1978-05-11',2.3],['1978-05-15',1.8],['1978-05-18',1.7],['1978-05-22',5.3],['1978-05-27',3.0],['1978-06-01',2.0],['1978-06-06',1.5],['1978-06-11',1.2],['1978-06-20',0.9],['1978-06-28',0.8],['1978-07-04',0.7],['1978-07-08',1.2],['1978-07-12',0.8],['1978-07-20',0.65],['1978-07-31',0.55]
];

const originalB: [string, number][] = [
  ['1977-08-01',4.8],['1977-08-03',0.6],['1977-08-08',0.35],['1977-08-16',0.25],['1977-08-17',0.4],['1977-08-19',9.3],['1977-08-20',8.6],['1977-08-21',12.9],['1977-08-23',5.0],['1977-08-25',1.9],['1977-08-26',2.4],['1977-08-28',8.3],['1977-08-30',1.4],['1977-09-01',1.9],['1977-09-02',1.5],['1977-09-04',0.9],['1977-09-10',0.4],['1977-09-20',0.22],['1977-10-05',0.15],['1977-10-07',2.9],['1977-10-09',0.7],['1977-10-14',0.4],['1977-10-21',0.3],['1977-10-23',1.4],['1977-10-25',3.6],['1977-10-27',2.4],['1977-10-29',0.9],['1977-10-31',2.4],['1977-11-02',10.1],['1977-11-04',1.9],['1977-11-06',0.7],['1977-11-10',0.5],['1977-11-12',1.9],['1977-11-14',14.8],['1977-11-16',5.0],['1977-11-18',1.9],['1977-11-20',1.5],['1977-11-22',3.5],['1977-11-24',7.8],['1977-11-26',2.9],['1977-11-28',1.4],['1977-12-01',0.7],['1977-12-04',0.5],['1977-12-06',1.1],['1977-12-08',4.9],['1977-12-10',1.7],['1977-12-12',8.5],['1977-12-14',2.4],['1977-12-16',1.1],['1977-12-20',0.7],['1977-12-23',0.5],['1977-12-24',4.1],['1977-12-25',1.5],['1977-12-27',7.0],['1977-12-29',3.4],['1977-12-31',3.1],
  ['1978-01-02',1.4],['1978-01-04',1.7],['1978-01-06',0.9],['1978-01-08',1.1],['1978-01-10',0.7],['1978-01-12',3.2],['1978-01-14',0.7],['1978-01-16',0.9],['1978-01-18',0.5],['1978-01-20',0.8],['1978-01-22',0.4],['1978-01-23',20.2],['1978-01-25',3.9],['1978-01-27',5.4],['1978-01-28',4.4],['1978-01-30',5.9],['1978-01-31',4.2],['1978-02-01',13.3],['1978-02-04',3.8],['1978-02-06',2.2],['1978-02-08',1.1],['1978-02-10',1.4],['1978-02-13',0.7],['1978-02-18',0.5],['1978-02-22',0.4],['1978-02-23',21.9],['1978-02-25',2.4],['1978-02-27',0.7],['1978-03-01',1.4],['1978-03-04',0.6],['1978-03-08',0.8],['1978-03-13',0.4],['1978-03-15',4.2],['1978-03-17',7.0],['1978-03-19',20.4],['1978-03-21',4.5],['1978-03-23',8.4],['1978-03-24',4.9],['1978-03-26',7.6],['1978-03-28',4.4],['1978-03-30',4.7],['1978-04-01',2.4],['1978-04-03',2.9],['1978-04-06',1.9],['1978-04-10',0.9],['1978-04-16',0.7],['1978-04-22',0.4],['1978-04-25',0.5],['1978-05-01',0.3],['1978-05-07',0.2],['1978-05-09',2.0],['1978-05-11',0.9],['1978-05-13',2.9],['1978-05-15',1.4],['1978-05-17',1.9],['1978-05-19',1.5],['1978-05-21',11.2],['1978-05-23',1.9],['1978-05-25',0.7],['1978-05-30',0.4],['1978-06-10',0.2],['1978-07-05',0.12],['1978-07-08',1.9],['1978-07-11',0.3],['1978-07-20',0.15],['1978-07-31',0.12]
];

const updatedB: [string, number][] = [
  ['1977-08-01',4.7],['1977-08-03',0.7],['1977-08-08',0.45],['1977-08-16',0.35],['1977-08-17',0.5],['1977-08-19',9.2],['1977-08-20',8.5],['1977-08-21',12.7],['1977-08-23',5.0],['1977-08-25',2.0],['1977-08-26',2.5],['1977-08-28',8.2],['1977-08-30',1.5],['1977-09-01',2.0],['1977-09-02',1.6],['1977-09-04',1.0],['1977-09-10',0.5],['1977-09-20',0.32],['1977-10-05',0.25],['1977-10-07',2.7],['1977-10-09',0.8],['1977-10-14',0.5],['1977-10-21',0.4],['1977-10-23',1.5],['1977-10-25',3.3],['1977-10-27',2.5],['1977-10-29',1.0],['1977-10-31',2.5],['1977-11-02',9.8],['1977-11-04',2.0],['1977-11-06',0.8],['1977-11-10',0.6],['1977-11-12',2.0],['1977-11-14',14.3],['1977-11-16',5.0],['1977-11-18',2.0],['1977-11-20',1.6],['1977-11-22',3.5],['1977-11-24',7.7],['1977-11-26',3.0],['1977-11-28',1.5],['1977-12-01',0.8],['1977-12-04',0.6],['1977-12-06',1.2],['1977-12-08',4.5],['1977-12-10',1.8],['1977-12-12',8.3],['1977-12-14',2.5],['1977-12-16',1.2],['1977-12-20',0.8],['1977-12-23',0.6],['1977-12-24',3.8],['1977-12-25',1.6],['1977-12-27',6.7],['1977-12-29',3.5],['1977-12-31',3.2],
  ['1978-01-02',1.5],['1978-01-04',1.8],['1978-01-06',1.0],['1978-01-08',1.2],['1978-01-10',0.8],['1978-01-12',3.0],['1978-01-14',0.8],['1978-01-16',1.0],['1978-01-18',0.6],['1978-01-20',0.9],['1978-01-22',0.5],['1978-01-23',19.3],['1978-01-25',4.0],['1978-01-27',5.5],['1978-01-28',4.5],['1978-01-30',6.0],['1978-01-31',4.3],['1978-02-01',13.1],['1978-02-04',3.9],['1978-02-06',2.3],['1978-02-08',1.2],['1978-02-10',1.5],['1978-02-13',0.8],['1978-02-18',0.6],['1978-02-22',0.5],['1978-02-23',20.9],['1978-02-25',2.5],['1978-02-27',0.8],['1978-03-01',1.5],['1978-03-04',0.7],['1978-03-08',0.9],['1978-03-13',0.5],['1978-03-15',4.0],['1978-03-17',6.5],['1978-03-19',20.2],['1978-03-21',4.6],['1978-03-23',8.3],['1978-03-24',5.0],['1978-03-26',7.6],['1978-03-28',4.5],['1978-03-30',4.8],['1978-04-01',2.5],['1978-04-03',3.0],['1978-04-06',2.0],['1978-04-10',1.0],['1978-04-16',0.8],['1978-04-22',0.5],['1978-04-25',0.6],['1978-05-01',0.4],['1978-05-07',0.3],['1978-05-09',1.8],['1978-05-11',1.0],['1978-05-13',2.5],['1978-05-15',1.5],['1978-05-17',2.0],['1978-05-19',1.6],['1978-05-21',10.5],['1978-05-23',2.0],['1978-05-25',0.8],['1978-05-30',0.5],['1978-06-10',0.3],['1978-07-05',0.2],['1978-07-08',1.6],['1978-07-11',0.4],['1978-07-20',0.25],['1978-07-31',0.2]
];

// ---------- STYLE ----------
const COLORS = ['#1f77b4', '#f99a2c', '#3cbf3c'];
const DRAW_ORDER = [1, 2, 0]; // original, updated, then measured on top
const FONT = "'DejaVu Sans', sans-serif";
const TEXT = '#222';
const parse = d3.utcParse('%Y-%m-%d');
const parseMonth = d3.utcParse('%Y-%m');

const TOP = 17, BOTTOM = 362;

function Legend({ x, y }: { x: number; y: number }) {
  return (
    <g transform={`translate(${x},${y})`}>
      <rect x={0} y={0} width={157} height={76} rx={3} fill="white" fillOpacity={0.85} stroke="#d4d4d4" strokeWidth={1} />
      {seriesNames.map((n, i) => (
        <g key={n}>
          <line x1={5} x2={38} y1={14 + i * 24} y2={14 + i * 24} stroke={COLORS[i]} strokeWidth={2.2} />
          <text x={49} y={14 + i * 24} dy="0.35em" fontSize={15} fontFamily={FONT} fill={TEXT}>{n}</text>
        </g>
      ))}
    </g>
  );
}

function Frame({ left, right, yScale, label, xTicks }: { left: number; right: number; yScale: d3.ScaleLinear<number, number>; label: string; xTicks: { x: number; text: string }[] }) {
  const cx = (left + right) / 2;
  return (
    <g>
      {yTicks.map((t) => (
        <g key={t}>
          <line x1={left - 5} x2={left} y1={yScale(t)} y2={yScale(t)} stroke="#333" strokeWidth={1} />
          <text x={left - 9} y={yScale(t)} dy="0.35em" textAnchor="end" fontSize={14} fontFamily={FONT} fill={TEXT}>{t}</text>
        </g>
      ))}
      {xTicks.map((t) => (
        <g key={t.text}>
          <line x1={t.x} x2={t.x} y1={BOTTOM} y2={BOTTOM + 5} stroke="#333" strokeWidth={1} />
          <text x={t.x} y={386} textAnchor="middle" fontSize={14} fontFamily={FONT} fill={TEXT}>{t.text}</text>
        </g>
      ))}
      <rect x={left} y={TOP} width={right - left} height={BOTTOM - TOP} fill="none" stroke="#333" strokeWidth={1.1} />
      <text x={cx} y={410} textAnchor="middle" fontSize={14} fontFamily={FONT} fill={TEXT}>Date [Years]</text>
      <text transform={`translate(${left - 42},${(TOP + BOTTOM) / 2}) rotate(-90)`} textAnchor="middle" fontSize={14} fontFamily={FONT} fill={TEXT}>Discharge [m3/s]</text>
      <text x={left + 13} y={48} fontSize={24} fontFamily={FONT} fill="#111">{label}</text>
    </g>
  );
}

export default function App() {
  const y = d3.scaleLinear().domain([0, 30]).range([BOTTOM, TOP]);

  // Panel A
  const xA = d3.scaleLinear().domain([1972.35, 1986.65]).range([67, 596]);
  const lineA = d3.line<[number, number]>().x((d) => xA(d[0])).y((d) => y(d[1]));
  const seriesA = [measuredA, originalA, updatedA];

  // Panel B
  const startB = parse('1977-08-01')!.getTime();
  const endB = parse('1978-07-31')!.getTime();
  const pad = (endB - startB) * 0.05;
  const xB = d3.scaleUtc().domain([new Date(startB - pad), new Date(endB + pad)]).range([668, 1197]);
  const lineB = d3.line<[string, number]>().x((d) => xB(parse(d[0])!)).y((d) => y(d[1]));
  const seriesB = [measuredB, originalB, updatedB];

  return (
    <div style={{ position: 'absolute', left: 0, top: 0 }}>
      <svg width={1201} height={416} viewBox="0 0 1201 416" style={{ display: 'block', background: 'white' }}>
        <rect width={1201} height={416} fill="white" />
        <g>
          {DRAW_ORDER.map((i) => (
            <path key={i} d={lineA(seriesA[i]) || ''} fill="none" stroke={COLORS[i]} strokeWidth={1.6} strokeLinejoin="round" />
          ))}
        </g>
        <Frame left={67} right={596} yScale={y} label="A" xTicks={xTicksA.map((t) => ({ x: xA(t), text: String(t) }))} />
        <Legend x={430} y={25} />

        <g>
          {DRAW_ORDER.map((i) => (
            <path key={i} d={lineB(seriesB[i]) || ''} fill="none" stroke={COLORS[i]} strokeWidth={2.4} strokeLinejoin="round" />
          ))}
        </g>
        <Frame left={668} right={1197} yScale={y} label="B" xTicks={xTicksB.map((t) => ({ x: xB(parseMonth(t)!), text: t }))} />
        <Legend x={1031} y={25} />
      </svg>
    </div>
  );
}
